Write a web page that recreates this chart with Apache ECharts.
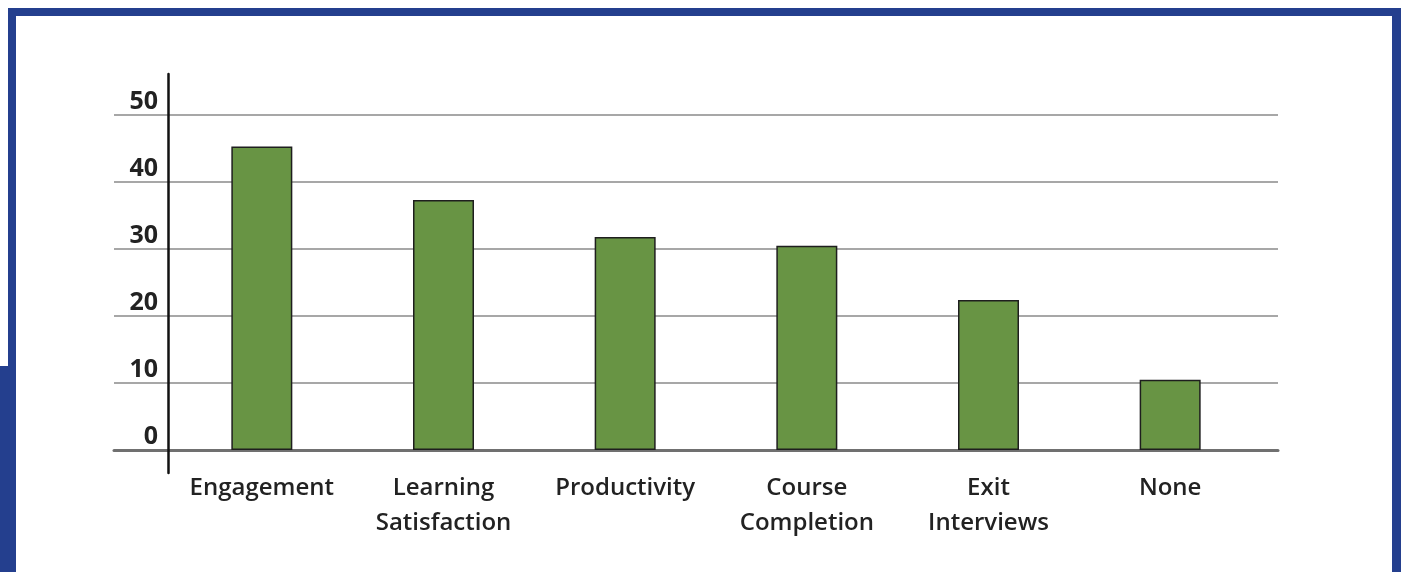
<!DOCTYPE html>
<html>
<head>
<meta charset="utf-8">
<script src="https://cdn.jsdelivr.net/npm/echarts@6/dist/echarts.min.js"></script>
<style>
  html, body { margin: 0; padding: 0; background: #fff; }
  #chart { width: 1401px; height: 572px; }
</style>
</head>
<body>
<div id="chart"></div>
<script>
var categories = ['Engagement', 'Learning\nSatisfaction', 'Productivity', 'Course\nCompletion', 'Exit\nInterviews', 'None'];
var values = [45.3, 37.3, 31.8, 30.5, 22.4, 10.5];
var yTicks = { min: 0, max: 50, step: 10 };

var blue = '#243f8e';
var green = '#689444';
var font = '"Open Sans", "Noto Sans", sans-serif';

var myChart = echarts.init(document.getElementById('chart'));

var option = {
    backgroundColor: '#fff',
    animation: false,
    graphic: [
        // frame
        { type: 'rect', shape: { x: 8, y: 8, width: 1393, height: 8 }, style: { fill: blue } },
        { type: 'rect', shape: { x: 8, y: 8, width: 8, height: 358 }, style: { fill: blue } },
        { type: 'rect', shape: { x: 0, y: 366, width: 16, height: 206 }, style: { fill: blue } },
        { type: 'rect', shape: { x: 1392, y: 8, width: 9, height: 564 }, style: { fill: blue } }
    ],
    grid: [
        { left: 171, right: 140, top: 115, bottom: 122 },
        { left: 114, right: 123, top: 115, bottom: 122 },
        { left: 168, width: 10, top: 74, bottom: 99 }
    ],
    xAxis: [
        {
            gridIndex: 0,
            type: 'category',
            data: categories,
            axisLine: { show: false },
            axisTick: { show: false },
            axisLabel: {
                interval: 0,
                margin: 21,
                fontFamily: font,
                fontSize: 24,
                fontWeight: 600,
                lineHeight: 35,
                color: '#222'
            }
        },
        {
            gridIndex: 1,
            type: 'category',
            data: categories,
            axisLine: { show: true, lineStyle: { color: '#707070', width: 3 } },
            axisTick: { show: false },
            axisLabel: { show: false }
        },
        {
            gridIndex: 2,
            type: 'value',
            show: false
        }
    ],
    yAxis: [
        {
            gridIndex: 0,
            type: 'value',
            min: yTicks.min,
            max: yTicks.max,
            interval: yTicks.step,
            axisLine: { show: false },
            axisTick: { show: false },
            splitLine: { show: false },
            axisLabel: {
                margin: 13,
                fontFamily: font,
                fontSize: 25,
                fontWeight: 'bold',
                color: '#222',
                verticalAlign: 'bottom',
                lineHeight: 25,
                padding: [0, 0, 1, 0]
            }
        },
        {
            gridIndex: 1,
            type: 'value',
            min: yTicks.min,
            max: yTicks.max,
            interval: yTicks.step,
            axisLine: { show: false },
            axisTick: { show: false },
            axisLabel: { show: false },
            splitLine: { show: true, lineStyle: { color: '#8a8a8a', width: 1.5 } }
        },
        {
            gridIndex: 2,
            type: 'value',
            min: 0,
            max: 1,
            z: 5,
            axisLine: { show: true, lineStyle: { color: '#111', width: 2.5 } },
            axisTick: { show: false },
            axisLabel: { show: false },
            splitLine: { show: false }
        }
    ],
    series: [
        {
            type: 'bar',
            xAxisIndex: 0,
            yAxisIndex: 0,
            data: values,
            barWidth: 61,
            z: 3,
            itemStyle: {
                color: green,
                borderColor: '#1e1e1e',
                borderWidth: 1.5
            }
        }
    ]
};

myChart.setOption(option);
</script>
</body>
</html>
